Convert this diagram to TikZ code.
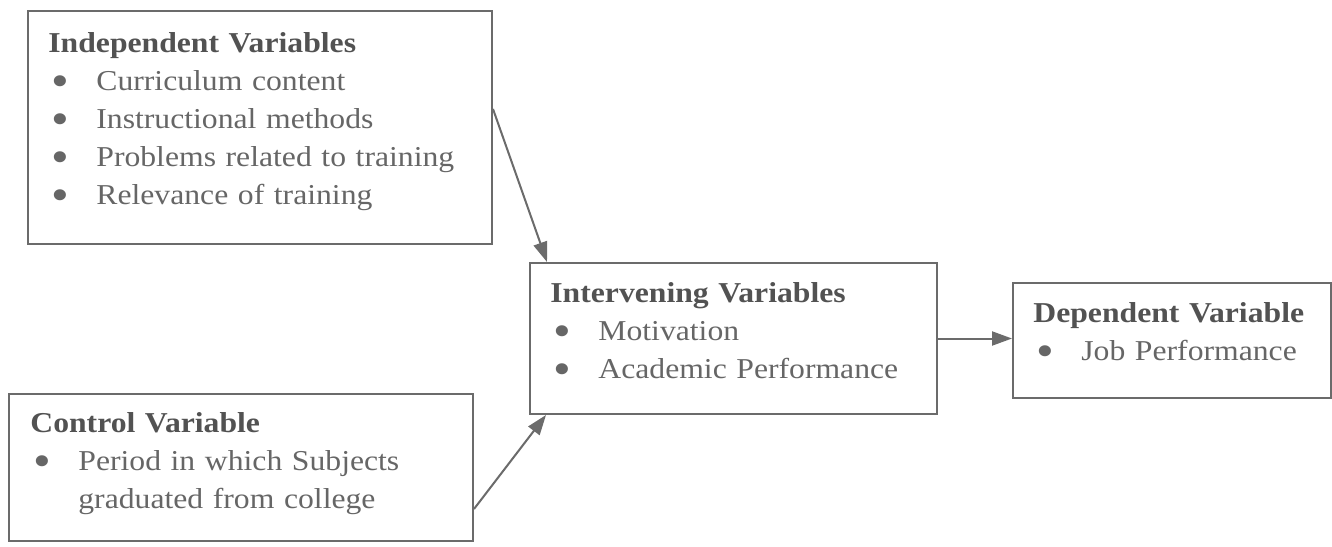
\documentclass[tikz,border=0pt]{standalone}
\usepackage{fontspec}
\usepackage{graphicx}
\setmainfont[FakeStretch=1.1]{Liberation Serif}
\usetikzlibrary{arrows.meta}

\definecolor{boxline}{gray}{0.42}
\definecolor{bodyink}{gray}{0.40}
\definecolor{headink}{gray}{0.32}
\newcommand{\bul}{\makebox[24pt][l]{\hspace{1.5pt}\smash{\raisebox{-3pt}{\scalebox{1.6}{\textbullet}}}}}
\newcommand{\hang}{\hspace*{24pt}}

\begin{document}
\begin{tikzpicture}[x=0.5pt,y=-0.5pt,
  varbox/.style={draw=boxline,line width=1pt,anchor=north west,inner sep=0pt},
  vartext/.style={anchor=base west,inner sep=0pt,align=left,text=bodyink,
    font=\fontsize{14.4}{19}\selectfont},
  link/.style={draw=boxline,line width=1pt,-{Triangle[length=10pt,width=7pt]}}]
\useasboundingbox[fill=white] (0,0) rectangle (1332,546);
% Drawing boxes
\node[varbox,minimum width=232pt,minimum height=116.5pt] (indep) at (27,10) {};
\node[varbox,minimum width=232pt,minimum height=73.5pt] (control) at (8,393) {};
\node[varbox,minimum width=203.5pt,minimum height=75.5pt] (interv) at (529,262) {};
\node[varbox,minimum width=159pt,minimum height=57.5pt] (depend) at (1012,282) {};
% Done with boxes; drawing texts
\node[vartext,text width=220pt] (indeptext) at (48,52) {%
  {\bfseries\color{headink}Independent Variables}\\
  \bul Curriculum content\\
  \bul Instructional methods\\
  \bul Problems related to training\\
  \bul Relevance of training};
\node[vartext,text width=220pt] (controltext) at (30,432) {%
  {\bfseries\color{headink}Control Variable}\\
  \bul Period in which Subjects\\
  \hang graduated from college};
\node[vartext,text width=190pt] (intervtext) at (550,302) {%
  {\bfseries\color{headink}Intervening Variables}\\
  \bul Motivation\\
  \bul Academic Performance};
\node[vartext,text width=145pt] (dependtext) at (1033,322) {%
  {\bfseries\color{headink}Dependent Variable}\\
  \bul Job Performance};
% Done with texts; drawing arrows
\draw[link] ([yshift=9.25pt]indep.east) -- ([xshift=9pt]interv.north west);
\draw[link] ([yshift=-20.75pt]control.east) -- ([xshift=8.5pt]interv.south west);
\draw[link] (interv.east) -- (interv.east -| depend.west);
% Done with arrows
\end{tikzpicture}
\end{document}
